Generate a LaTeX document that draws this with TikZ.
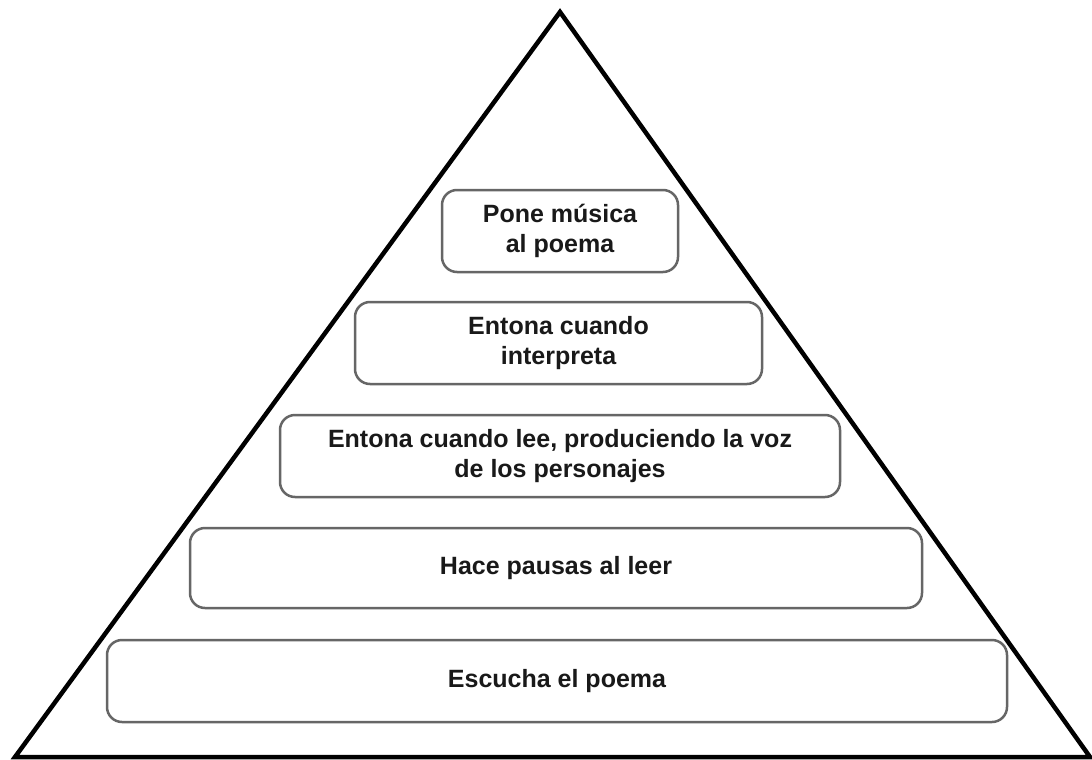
\documentclass[tikz,border=0pt]{standalone}
\usepackage{fontspec}
\setmainfont{Liberation Sans}
\begin{document}
\begin{tikzpicture}[x=1pt,y=-1pt,
  level/.style={draw=black!60, line width=2.5pt, rounded corners=15pt, fill=white,
    align=center, text=black!90, inner sep=0pt,
    font=\fontsize{25}{30}\selectfont\bfseries}]
\useasboundingbox (0,0) rectangle (1092,760);
\fill[white] (0,0) rectangle (1092,760);
\draw[line width=4.5pt, line join=miter] (560,12) -- (1090,757) -- (15,757) -- cycle;
\node[level, minimum width=236pt, minimum height=82pt] (l1) at (560,231) {Pone música\\al poema};
\node[level, minimum width=407pt, minimum height=82pt] (l2) at (558.5,343) {Entona cuando\\interpreta};
\node[level, minimum width=560pt, minimum height=82pt] (l3) at (560,456) {Entona cuando lee, produciendo la voz\\de los personajes};
\node[level, minimum width=732pt, minimum height=80pt] (l4) at (556,568) {Hace pausas al leer};
\node[level, minimum width=900pt, minimum height=82pt] (l5) at (557,681) {Escucha el poema};
\end{tikzpicture}
\end{document}
